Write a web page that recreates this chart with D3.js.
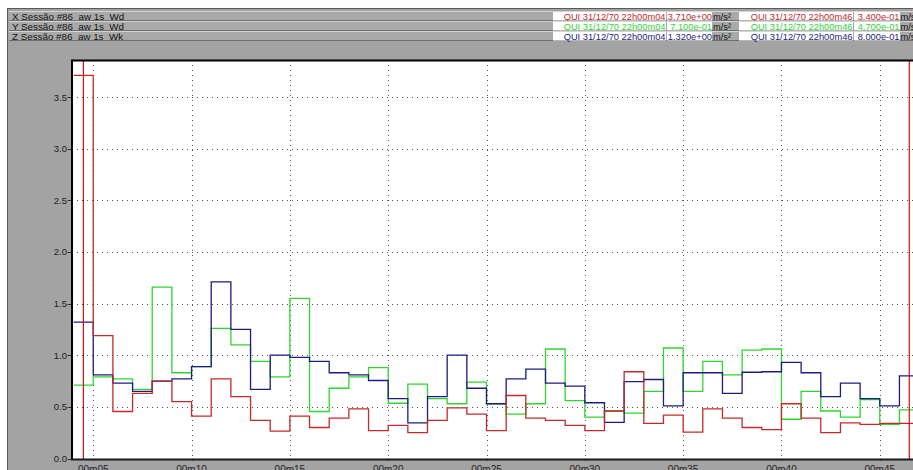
<!DOCTYPE html>
<html>
<head>
<meta charset="utf-8">
<script src="https://cdn.jsdelivr.net/npm/d3@7"></script>
<style>
body { margin: 0; background: #ffffff; }
text { font-family: "Liberation Sans", Arial, sans-serif; }
</style>
</head>
<body>
<div id="chart"></div>
<script>
// seconds after 22h00m00
var seconds = [4,5,6,7,8,9,10,11,12,13,14,15,16,17,18,19,20,21,22,23,24,25,26,27,28,29,30,31,32,33,34,35,36,37,38,39,40,41,42,43,44,45,46];

var xValues = [3.71,1.19,0.455,0.63,0.75,0.55,0.41,0.77,0.60,0.37,0.265,0.41,0.30,0.39,0.48,0.27,0.32,0.25,0.37,0.49,0.43,0.27,0.61,0.39,0.37,0.32,0.27,0.46,0.84,0.34,0.42,0.255,0.48,0.39,0.30,0.28,0.53,0.39,0.25,0.345,0.33,0.34,0.34];
var yValues = [0.71,0.79,0.77,0.67,1.66,0.83,0.89,1.26,1.10,0.94,0.79,1.55,0.455,0.68,0.79,0.88,0.535,0.72,0.58,0.53,0.74,0.53,0.43,0.53,1.06,0.56,0.40,0.46,0.44,0.65,1.07,0.65,0.94,0.81,1.05,1.06,0.38,0.65,0.46,0.40,0.57,0.33,0.47];
var zValues = [1.32,0.81,0.73,0.65,0.75,0.77,0.89,1.71,1.25,0.67,1.00,0.98,0.94,0.83,0.81,0.755,0.58,0.345,0.60,1.00,0.68,0.53,0.77,0.865,0.73,0.70,0.54,0.35,0.745,0.765,0.51,0.83,0.83,0.63,0.835,0.84,0.93,0.83,0.60,0.73,0.58,0.51,0.80];

var seriesNames = ["X Sessão #86  aw 1s  Wd", "Y Sessão #86  aw 1s  Wd", "Z Sessão #86  aw 1s  Wk"];
var seriesColors = ["#c42a2a", "#2fd62f", "#1c1c82"];
var cursorTimes = [4.5, 46.5];
var cursorLabels = ["QUI 31/12/70 22h00m04", "QUI 31/12/70 22h00m46"];
var cursor1Values = ["3.710e+00", "7.100e-01", "1.320e+00"];
var cursor2Values = ["3.400e-01", "4.700e-01", "8.000e-01"];
var yTicks = [0, 0.5, 1, 1.5, 2, 2.5, 3, 3.5];
var xTicks = [5, 10, 15, 20, 25, 30, 35, 40, 45];

var W = 913, H = 470;
var plotLeft = 72, plotRight = 913, plotTop = 60, plotBottom = 459;

var svg = d3.select("#chart").append("svg").attr("width", W).attr("height", H);

// frame panel
svg.append("rect").attr("x", 7).attr("y", 8).attr("width", W - 7).attr("height", H - 8).attr("fill", "#a3a3a3");
svg.append("line").attr("x1", 7).attr("x2", W).attr("y1", 8.5).attr("y2", 8.5).attr("stroke", "#5a5a5a");
svg.append("line").attr("x1", 7.5).attr("x2", 7.5).attr("y1", 8).attr("y2", H).attr("stroke", "#5a5a5a");

// header rows
function headerRow(i) {
    var y0 = 11 + i * 10;
    var row = svg.append("g");
    row.append("rect").attr("x", 9).attr("y", y0).attr("width", W - 9).attr("height", 10).attr("fill", "#a9a9a9");
    row.append("line").attr("x1", 9).attr("x2", W).attr("y1", y0 + 0.5).attr("y2", y0 + 0.5).attr("stroke", "#d4d4d4");
    row.append("line").attr("x1", 9).attr("x2", W).attr("y1", y0 + 9.5).attr("y2", y0 + 9.5).attr("stroke", "#6e6e6e");
    row.append("text").attr("x", 12).attr("y", y0 + 8.5).attr("font-size", "9.8px").attr("fill", "#111")
        .style("white-space", "pre").text(seriesNames[i]);

    row.append("rect").attr("x", 553).attr("y", y0 + 1).attr("width", 113).attr("height", 8.5).attr("fill", "#fff");
    row.append("rect").attr("x", 667).attr("y", y0 + 1).attr("width", 45).attr("height", 8.5).attr("fill", "#fff");
    row.append("rect").attr("x", 739).attr("y", y0 + 1).attr("width", 114).attr("height", 8.5).attr("fill", "#fff");
    row.append("rect").attr("x", 854).attr("y", y0 + 1).attr("width", 46).attr("height", 8.5).attr("fill", "#fff");

    row.append("text").attr("x", 665.5).attr("y", y0 + 8.5).attr("font-size", "9.3px").attr("text-anchor", "end")
        .attr("fill", seriesColors[i]).text(cursorLabels[0]);
    row.append("text").attr("x", 712).attr("y", y0 + 8.5).attr("font-size", "9.3px").attr("text-anchor", "end")
        .attr("fill", seriesColors[i]).text(cursor1Values[i]);
    row.append("text").attr("x", 713).attr("y", y0 + 8.5).attr("font-size", "9.3px").attr("fill", "#111").text("m/s²");

    row.append("text").attr("x", 852.5).attr("y", y0 + 8.5).attr("font-size", "9.3px").attr("text-anchor", "end")
        .attr("fill", seriesColors[i]).text(cursorLabels[1]);
    row.append("text").attr("x", 899.5).attr("y", y0 + 8.5).attr("font-size", "9.3px").attr("text-anchor", "end")
        .attr("fill", seriesColors[i]).text(cursor2Values[i]);
    row.append("text").attr("x", 900.5).attr("y", y0 + 8.5).attr("font-size", "9.3px").attr("fill", "#111").text("m/s²");
}
for (var i = 0; i < 3; i++) headerRow(i);

// scales
var x = d3.scaleLinear().domain([3.92, 46.69]).range([plotLeft, plotRight]);
var y = d3.scaleLinear().domain([0, 3.5]).range([458.5, 97]);

svg.append("rect").attr("x", plotLeft).attr("y", plotTop).attr("width", plotRight - plotLeft).attr("height", plotBottom - plotTop).attr("fill", "#fff");

svg.append("clipPath").attr("id", "plotclip").append("rect")
    .attr("x", plotLeft).attr("y", plotTop).attr("width", plotRight - plotLeft).attr("height", plotBottom - plotTop);

// grid
svg.selectAll("line.hgrid").data(yTicks.slice(1)).enter().append("line").attr("class", "hgrid")
    .attr("x1", plotLeft).attr("x2", plotRight)
    .attr("y1", function(d) { return Math.round(y(d)) + 0.5; })
    .attr("y2", function(d) { return Math.round(y(d)) + 0.5; })
    .attr("stroke", "#555").attr("stroke-width", 1).style("stroke-dasharray", "1,4");

svg.selectAll("line.vgrid").data(xTicks).enter().append("line").attr("class", "vgrid")
    .attr("x1", function(d) { return Math.round(x(d)) + 0.5; })
    .attr("x2", function(d) { return Math.round(x(d)) + 0.5; })
    .attr("y1", plotTop).attr("y2", plotBottom + 4)
    .attr("stroke", "#555").attr("stroke-width", 1).style("stroke-dasharray", "1,4");

// series, green under blue under red
var plot = svg.append("g").attr("clip-path", "url(#plotclip)");
var line = d3.line()
    .x(function(d) { return x(d[0]); })
    .y(function(d) { return y(d[1]); })
    .curve(d3.curveStepAfter);

function stepData(vals) {
    var pts = seconds.map(function(t, k) { return [t, vals[k]]; });
    pts.push([seconds[seconds.length - 1] + 1, vals[vals.length - 1]]);
    return pts;
}

[[yValues, 1], [zValues, 2], [xValues, 0]].forEach(function(s) {
    plot.append("path")
        .attr("d", line(stepData(s[0])))
        .attr("fill", "none")
        .attr("stroke", seriesColors[s[1]])
        .attr("stroke-width", 1.3);
});

// cursors
plot.selectAll("line.cursor").data(cursorTimes).enter().append("line").attr("class", "cursor")
    .attr("x1", function(d) { return x(d); })
    .attr("x2", function(d) { return x(d); })
    .attr("y1", plotTop).attr("y2", plotBottom)
    .attr("stroke", "#d01010").attr("stroke-width", 1.2);

// axes frame
svg.append("line").attr("x1", plotLeft).attr("x2", plotRight).attr("y1", plotTop + 0.5).attr("y2", plotTop + 0.5).attr("stroke", "#000").attr("stroke-width", 2);
svg.append("line").attr("x1", plotLeft).attr("x2", plotLeft).attr("y1", plotTop - 0.5).attr("y2", plotBottom + 1).attr("stroke", "#000").attr("stroke-width", 2);
svg.append("line").attr("x1", plotLeft - 1).attr("x2", plotRight).attr("y1", plotBottom + 0.5).attr("y2", plotBottom + 0.5).attr("stroke", "#1a1a1a").attr("stroke-width", 2);

// y labels
svg.selectAll("line.ytick").data(yTicks).enter().append("line").attr("class", "ytick")
    .attr("x1", 67.5).attr("x2", 71)
    .attr("y1", function(d) { return Math.round(y(d)) + 0.5; })
    .attr("y2", function(d) { return Math.round(y(d)) + 0.5; })
    .attr("stroke", "#333");
svg.selectAll("text.ylab").data(yTicks).enter().append("text").attr("class", "ylab")
    .attr("x", 67).attr("y", function(d) { return y(d) + 3.5; })
    .attr("text-anchor", "end").attr("font-size", "9.5px").attr("fill", "#222")
    .text(function(d) { return d3.format(".1f")(d); });

// x labels
svg.selectAll("text.xlab").data(xTicks).enter().append("text").attr("class", "xlab")
    .attr("x", function(d) { return x(d); }).attr("y", 473)
    .attr("text-anchor", "middle").attr("font-size", "10px").attr("fill", "#222")
    .text(function(d) { return "00m" + d3.format("02d")(d); });
</script>
</body>
</html>
